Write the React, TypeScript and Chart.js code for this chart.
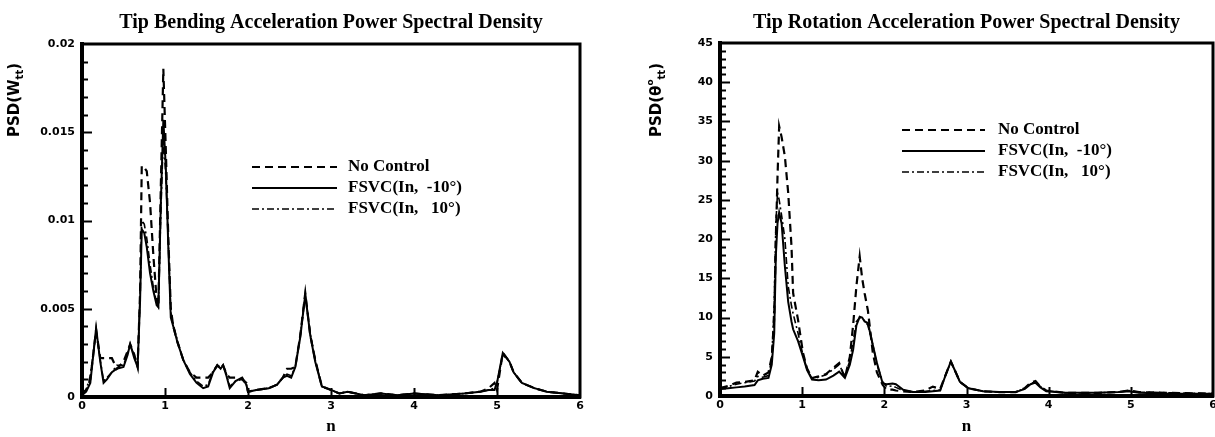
import React, { useEffect, useRef } from 'react';
import { Chart, registerables } from 'chart.js';

Chart.register(...registerables);

// ---------------- DATA ----------------
const seriesNames = ['No Control', 'FSVC(In,  -10°)', 'FSVC(In,   10°)'];
const xTickLabels = ['0', '1', '2', '3', '4', '5', '6'];

// Tip bending acceleration PSD
const nBend = [
  0.0, 0.05, 0.1, 0.17, 0.22, 0.26, 0.3, 0.36, 0.42, 0.5, 0.55, 0.58, 0.63, 0.67, 0.7, 0.72, 0.75, 0.78,
  0.82, 0.86, 0.9, 0.92, 0.95, 0.98, 1.01, 1.04, 1.07, 1.1, 1.15, 1.22, 1.3, 1.38, 1.46, 1.52, 1.58, 1.63,
  1.67, 1.7, 1.74, 1.78, 1.85, 1.93, 1.98, 2.0, 2.1, 2.25, 2.35, 2.42, 2.47, 2.52, 2.57, 2.63, 2.69, 2.75,
  2.81, 2.89, 3.0, 3.1, 3.2, 3.4, 3.6, 3.8, 4.0, 4.3, 4.6, 4.8, 4.9, 4.97, 5.0, 5.07, 5.15, 5.2, 5.3, 5.45,
  5.6, 5.8, 6.0,
];
const bendNoControl = [
  0.0002, 0.0004, 0.001, 0.0038, 0.0022, 0.0022, 0.0022, 0.0022, 0.0016, 0.002, 0.0026, 0.003, 0.0024, 0.0017, 0.006, 0.0131, 0.013, 0.0128,
  0.011, 0.008, 0.0055, 0.0051, 0.012, 0.0186, 0.014, 0.009, 0.005, 0.004, 0.0031, 0.0021, 0.0014, 0.0011, 0.0011, 0.0011, 0.0014, 0.0018,
  0.0016, 0.0018, 0.0013, 0.0011, 0.0011, 0.001, 0.0008, 0.0003, 0.0004, 0.0005, 0.0007, 0.0011, 0.0016, 0.0016, 0.0017, 0.0035, 0.0059, 0.0035,
  0.0021, 0.0006, 0.0004, 0.0002, 0.0003, 0.0001, 0.0002, 0.0001, 0.0002, 0.0001, 0.0002, 0.0003, 0.0005, 0.0008, 0.0004, 0.0025, 0.002, 0.0014, 0.0008, 0.0005,
  0.0003, 0.0002, 0.0001,
];
const bendFsvcNeg = [
  0.0001, 0.0003, 0.0008, 0.0039, 0.002, 0.0008, 0.001, 0.0014, 0.0016, 0.0017, 0.0024, 0.003, 0.0022, 0.0017, 0.0055, 0.0095, 0.0093, 0.0085,
  0.007, 0.006, 0.0052, 0.0051, 0.011, 0.0157, 0.013, 0.0085, 0.0045, 0.004, 0.0031, 0.0021, 0.0013, 0.0008, 0.0005, 0.0006, 0.0014, 0.0018,
  0.0016, 0.0018, 0.0012, 0.0005, 0.0009, 0.0011, 0.0007, 0.0003, 0.0004, 0.0005, 0.0007, 0.0011, 0.0012, 0.0011, 0.0017, 0.0034, 0.0058, 0.0035,
  0.002, 0.0006, 0.0004, 0.0002, 0.0003, 0.0001, 0.0002, 0.0001, 0.0002, 0.0001, 0.0002, 0.0003, 0.0004, 0.0004, 0.0008, 0.0025, 0.002, 0.0014, 0.0008, 0.0005,
  0.0003, 0.0002, 0.0001,
];
const bendFsvcPos = [
  0.0002, 0.0004, 0.0012, 0.0037, 0.0021, 0.0009, 0.0011, 0.0014, 0.0018, 0.0018, 0.0025, 0.0029, 0.0024, 0.0018, 0.0058, 0.01, 0.0098, 0.009,
  0.0075, 0.0062, 0.0053, 0.0051, 0.0105, 0.0148, 0.0125, 0.0088, 0.0048, 0.0041, 0.0032, 0.0021, 0.0014, 0.0009, 0.0006, 0.0007, 0.0015, 0.0018,
  0.0017, 0.0018, 0.0013, 0.0006, 0.0009, 0.001, 0.0007, 0.0003, 0.0004, 0.0005, 0.0007, 0.0011, 0.0013, 0.0012, 0.0017, 0.0035, 0.0058, 0.0036,
  0.0021, 0.0006, 0.0004, 0.0002, 0.0003, 0.0001, 0.0002, 0.0001, 0.0002, 0.0001, 0.0002, 0.0003, 0.0004, 0.0005, 0.0008, 0.0024, 0.002, 0.0014, 0.0008, 0.0005,
  0.0003, 0.0002, 0.0001,
];
const bendYTickLabels = ['0', '0.005', '0.01', '0.015', '0.02'];

// Tip rotation acceleration PSD
const nRot = [
  0.0, 0.1, 0.2, 0.3, 0.42, 0.46, 0.52, 0.59, 0.63, 0.66, 0.68, 0.7, 0.72, 0.75, 0.79, 0.83, 0.87, 0.89,
  0.95, 1.01, 1.06, 1.12, 1.2, 1.29, 1.38, 1.45, 1.52, 1.58, 1.62, 1.66, 1.7, 1.73, 1.76, 1.8, 1.86, 1.91,
  1.98, 2.03, 2.1, 2.14, 2.23, 2.35, 2.5, 2.59, 2.68, 2.75, 2.81, 2.87, 2.92, 3.02, 3.2, 3.4, 3.6, 3.71,
  3.78, 3.84, 3.9, 3.97, 4.2, 4.6, 4.85, 4.97, 5.1, 5.5, 6.0,
];
const rotNoControl = [
  1.0, 1.3, 1.7, 1.8, 2.0, 3.1, 2.6, 3.0, 5.0, 10.0, 20.0, 28.0, 34.4, 33.0, 30.5, 25.9, 19.1, 13.1,
  9.7, 5.5, 3.5, 2.3, 2.5, 2.8, 3.6, 4.2, 2.3, 5.0, 9.0, 14.0, 17.8, 15.0, 13.1, 10.9, 5.5, 3.0,
  1.4, 0.8, 0.8, 0.7, 0.6, 0.5, 0.7, 1.2, 0.9, 2.8, 4.4, 3.0, 1.8, 1.0, 0.6, 0.5, 0.5, 1.0,
  1.7, 1.9, 1.2, 0.7, 0.4, 0.4, 0.5, 0.7, 0.5, 0.4, 0.3,
];
const rotFsvcNeg = [
  0.9, 1.0, 1.1, 1.2, 1.4, 2.0, 2.2, 2.3, 4.0, 8.0, 18.0, 22.0, 23.4, 22.0, 16.5, 12.0, 9.5, 8.5,
  7.0, 5.0, 3.3, 2.1, 2.0, 2.1, 2.6, 3.1, 2.3, 4.0, 5.9, 9.0, 10.1, 10.0, 9.5, 9.3, 6.5, 4.2,
  1.6, 1.5, 1.6, 1.5, 0.8, 0.5, 0.5, 0.6, 0.7, 2.8, 4.4, 3.0, 1.8, 1.0, 0.6, 0.5, 0.5, 0.9,
  1.5, 1.7, 1.1, 0.6, 0.4, 0.4, 0.5, 0.6, 0.4, 0.3, 0.3,
];
const rotFsvcPos = [
  1.0, 1.2, 1.5, 1.7, 1.9, 2.5, 2.4, 2.6, 4.8, 12.0, 22.0, 25.9, 25.0, 23.0, 20.0, 14.0, 11.5, 10.5,
  8.0, 5.2, 3.4, 2.2, 2.4, 2.7, 3.4, 4.0, 2.5, 4.5, 7.0, 9.5, 10.0, 9.9, 9.6, 9.0, 6.5, 4.0,
  1.8, 1.2, 1.3, 1.1, 0.7, 0.5, 0.6, 0.7, 0.8, 2.8, 4.3, 3.0, 1.8, 1.0, 0.6, 0.5, 0.5, 1.0,
  1.6, 1.8, 1.2, 0.7, 0.4, 0.4, 0.5, 0.7, 0.5, 0.4, 0.3,
];
const rotYTickLabels = ['0', '5', '10', '15', '20', '25', '30', '35', '40', '45'];

// ---------------- STYLE ----------------
const lineStyles = [
  { borderDash: [8, 5], borderWidth: 2.2 },
  { borderDash: [], borderWidth: 2 },
  { borderDash: [7, 3, 2, 3], borderWidth: 1.6 },
];
const SERIF = '"Liberation Serif", "Times New Roman", serif';
const SANS = '"DejaVu Sans", sans-serif';

type Part = { t: string; size: number; dy: number };

type PanelCfg = {
  title: string;
  n: number[];
  series: number[][];
  yMax: number;
  yStep: number;
  yMinor: number;
  yTicks: string[];
  yTitle: Part[];
  yTitleX: number;
  yTitleY: number;
  legendX1: number;
  legendX2: number;
  legendTextX: number;
  legendRows: number[];
  width: number;
  yAxisWidth: number;
  padRight: number;
  padTop: number;
  xAxisHeight: number;
};

function decorPlugin(cfg: PanelCfg) {
  return {
    id: 'decor',
    afterDraw(chart: any) {
      const ctx = chart.ctx as CanvasRenderingContext2D;
      const a = chart.chartArea;
      const xs = chart.scales.x;
      const ys = chart.scales.y;
      ctx.save();
      // frame top/right
      ctx.strokeStyle = '#000';
      ctx.lineWidth = 3;
      ctx.strokeRect(a.left, a.top, a.right - a.left, a.bottom - a.top);
      // y ticks (inward, major + minor)
      ctx.lineWidth = 2;
      const nMinor = Math.round(cfg.yMax / cfg.yMinor);
      const perMajor = Math.round(cfg.yStep / cfg.yMinor);
      for (let i = 1; i < nMinor; i++) {
        const v = i * cfg.yMinor;
        const y = Math.round(ys.getPixelForValue(v)) + 0.5;
        const len = i % perMajor === 0 ? 10 : 6;
        ctx.beginPath();
        ctx.moveTo(a.left, y);
        ctx.lineTo(a.left + len, y);
        ctx.stroke();
      }
      // x ticks (inward)
      for (let v = 1; v < 6; v++) {
        const x = Math.round(xs.getPixelForValue(v)) + 0.5;
        ctx.beginPath();
        ctx.moveTo(x, a.bottom);
        ctx.lineTo(x, a.bottom - 9);
        ctx.stroke();
      }
      // title
      ctx.fillStyle = '#000';
      ctx.font = `bold 20px ${SERIF}`;
      ctx.textAlign = 'center';
      ctx.textBaseline = 'middle';
      ctx.fillText(cfg.title, (a.left + a.right) / 2, 23);
      // y title (rotated, with sub/superscripts)
      ctx.save();
      ctx.translate(cfg.yTitleX, cfg.yTitleY);
      ctx.rotate(-Math.PI / 2);
      ctx.textAlign = 'left';
      ctx.textBaseline = 'middle';
      let total = 0;
      for (const p of cfg.yTitle) {
        ctx.font = `bold ${p.size}px ${SANS}`;
        total += ctx.measureText(p.t).width;
      }
      let cx = -total / 2;
      for (const p of cfg.yTitle) {
        ctx.font = `bold ${p.size}px ${SANS}`;
        ctx.fillText(p.t, cx, p.dy);
        cx += ctx.measureText(p.t).width;
      }
      ctx.restore();
      // legend
      chart.data.datasets.forEach((ds: any, i: number) => {
        const y = cfg.legendRows[i];
        ctx.save();
        ctx.strokeStyle = '#000';
        ctx.lineWidth = ds.borderWidth;
        ctx.setLineDash(ds.borderDash || []);
        ctx.beginPath();
        ctx.moveTo(cfg.legendX1, y);
        ctx.lineTo(cfg.legendX2, y);
        ctx.stroke();
        ctx.restore();
        ctx.font = `bold 17px ${SERIF}`;
        ctx.textAlign = 'left';
        ctx.textBaseline = 'middle';
        ctx.fillText(ds.label, cfg.legendTextX, y);
      });
      ctx.restore();
    },
  };
}

function Panel({ cfg, left }: { cfg: PanelCfg; left: number }) {
  const ref = useRef<HTMLCanvasElement | null>(null);
  useEffect(() => {
    if (!ref.current) return;
    const datasets = cfg.series.map((ys, i) => ({
      label: seriesNames[i],
      data: cfg.n.map((x, j) => ({ x, y: ys[j] })),
      borderColor: '#000',
      backgroundColor: '#000',
      pointRadius: 0,
      fill: false,
      tension: 0,
      ...lineStyles[i],
    }));
    const tickFont = { family: SANS, weight: 'bold' as const, size: 11 };
    const chart = new Chart(ref.current, {
      type: 'line',
      data: { datasets },
      plugins: [decorPlugin(cfg)],
      options: {
        animation: false,
        responsive: false,
        devicePixelRatio: 1,
        layout: { padding: { left: 0, right: cfg.padRight, top: cfg.padTop, bottom: 0 } },
        plugins: {
          legend: { display: false },
          title: { display: false },
          tooltip: { enabled: false },
        },
        scales: {
          x: {
            type: 'linear',
            min: 0,
            max: 6,
            ticks: {
              stepSize: 1,
              padding: 3,
              color: '#000',
              font: tickFont,
              maxRotation: 0,
              callback: (v: any) => xTickLabels[Math.round(Number(v))],
            },
            grid: { display: false, drawTicks: false },
            border: { display: true, width: 4, color: '#000' },
            title: {
              display: true,
              text: 'n',
              color: '#000',
              font: { family: SERIF, weight: 'bold', size: 17 },
              padding: { top: 0, bottom: 0 },
            },
            afterFit: (s: any) => {
              s.height = cfg.xAxisHeight;
              s.paddingLeft = 0;
              s.paddingRight = 0;
            },
          },
          y: {
            type: 'linear',
            min: 0,
            max: cfg.yMax,
            ticks: {
              stepSize: cfg.yStep,
              padding: 7,
              color: '#000',
              font: tickFont,
              callback: (v: any) => cfg.yTicks[Math.round(Number(v) / cfg.yStep)],
            },
            grid: { display: false, drawTicks: false },
            border: { display: true, width: 4, color: '#000' },
            afterFit: (s: any) => {
              s.width = cfg.yAxisWidth;
              s.paddingTop = 0;
              s.paddingBottom = 0;
            },
          },
        },
      } as any,
    });
    return () => chart.destroy();
  }, [cfg]);
  return (
    <canvas
      ref={ref}
      width={cfg.width}
      height={437}
      style={{ position: 'absolute', left, top: 0, width: cfg.width, height: 437 }}
    />
  );
}

const bendCfg: PanelCfg = {
  title: 'Tip Bending Acceleration Power Spectral Density',
  n: nBend,
  series: [bendNoControl, bendFsvcNeg, bendFsvcPos],
  yMax: 0.02,
  yStep: 0.005,
  yMinor: 0.001,
  yTicks: bendYTickLabels,
  yTitle: [
    { t: 'PSD(W', size: 15, dy: 0 },
    { t: 'tt', size: 10, dy: 5 },
    { t: ')', size: 15, dy: 0 },
  ],
  yTitleX: 15,
  yTitleY: 100,
  legendX1: 252,
  legendX2: 337,
  legendTextX: 348,
  legendRows: [167, 188, 209],
  width: 640,
  yAxisWidth: 82,
  padRight: 60,
  padTop: 44,
  xAxisHeight: 40,
};

const rotCfg: PanelCfg = {
  title: 'Tip Rotation Acceleration Power Spectral Density',
  n: nRot,
  series: [rotNoControl, rotFsvcNeg, rotFsvcPos],
  yMax: 45,
  yStep: 5,
  yMinor: 1,
  yTicks: rotYTickLabels,
  yTitle: [
    { t: 'PSD(θ', size: 15, dy: 0 },
    { t: 'o', size: 9, dy: -6 },
    { t: 'tt', size: 10, dy: 5 },
    { t: ')', size: 15, dy: 0 },
  ],
  yTitleX: 17,
  yTitleY: 100,
  legendX1: 262,
  legendX2: 345,
  legendTextX: 358,
  legendRows: [130, 151, 172],
  width: 575,
  yAxisWidth: 80,
  padRight: 2,
  padTop: 43,
  xAxisHeight: 41,
};

export default function App() {
  return (
    <div style={{ position: 'absolute', left: 0, top: 0, width: 1215, height: 437, background: '#fff' }}>
      <Panel cfg={bendCfg} left={0} />
      <Panel cfg={rotCfg} left={640} />
    </div>
  );
}
